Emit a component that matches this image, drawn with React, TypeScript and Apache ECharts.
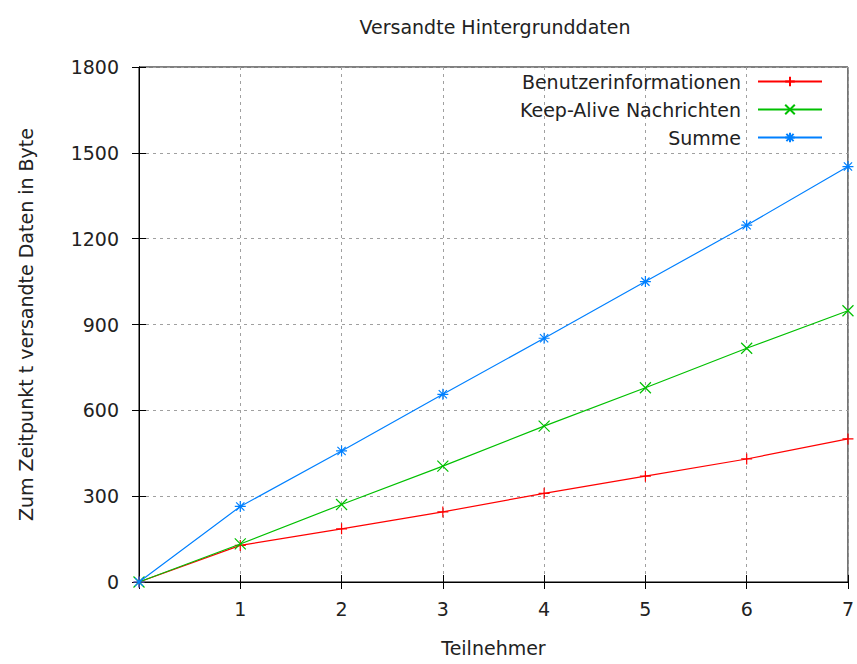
import React, { useEffect, useRef } from "react";
import * as echarts from "echarts";

const participants = [0, 1, 2, 3, 4, 5, 6, 7];
const userInfo = [0, 128, 186, 245, 310, 370, 430, 500];
const keepAlive = [0, 133, 271, 405, 545, 679, 817, 948];
const total = [0, 264, 458, 656, 852, 1050, 1247, 1452];
const seriesNames = ["Benutzerinformationen", "Keep-Alive Nachrichten", "Summe"];
const colors = ["#ff0000", "#00c000", "#0080ff"];

const FONT = "DejaVu Sans";
const FS = 19;
const TEXT = "#222";

const plusSym = "path://M-1,0 L1,0 M0,-1 L0,1";
const crossSym = "path://M-1,-1 L1,1 M-1,1 L1,-1";
const starSym = "path://M-1,0 L1,0 M0,-1 L0,1 M-0.75,-0.75 L0.75,0.75 M-0.75,0.75 L0.75,-0.75";

export default function App() {
  const ref = useRef<HTMLDivElement>(null);
  useEffect(() => {
    const chart = echarts.init(ref.current!, null, { renderer: "svg" });
    const mk = (i: number, vals: number[], sym: string) => ({
      name: seriesNames[i],
      type: "line",
      data: participants.map((x, k) => [x, vals[k]]),
      symbol: sym,
      symbolSize: 11,
      showSymbol: true,
      lineStyle: { color: colors[i], width: 1.2 },
      itemStyle: { color: colors[i], borderColor: colors[i], borderWidth: 1.2 },
      emphasis: { disabled: true },
      z: 3 + i,
    });
    const tickStyle = { show: true, inside: true, length: 7, lineStyle: { color: "#000", width: 1 } };
    chart.setOption({
      animation: false,
      backgroundColor: "#fff",
      title: {
        text: "Versandte Hintergrunddaten",
        left: 490,
        top: 12,
        textAlign: "center",
        textStyle: { fontFamily: FONT, fontSize: FS, fontWeight: "normal", color: TEXT },
      },
      legend: {
        orient: "vertical",
        align: "right",
        right: 34,
        top: 72,
        padding: 0,
        itemGap: 9,
        itemWidth: 64,
        itemHeight: 12,
        data: seriesNames,
        textStyle: { fontFamily: FONT, fontSize: FS, lineHeight: 18, color: TEXT, padding: [0, 12, 0, 0] },
      },
      grid: { left: 139, top: 67, width: 713, height: 515, show: true, borderColor: "#000", borderWidth: 1 },
      xAxis: [
        {
          type: "value",
          min: 0,
          max: 7,
          interval: 1,
          name: "Teilnehmer",
          nameLocation: "middle",
          nameGap: 56,
          nameTextStyle: { fontFamily: FONT, fontSize: FS, color: TEXT },
          axisLine: { show: true, lineStyle: { color: "#000", width: 1 } },
          axisTick: tickStyle,
          axisLabel: {
            fontFamily: FONT,
            fontSize: FS,
            color: TEXT,
            margin: 17,
            formatter: (v: number) => (v === 0 ? "" : String(v)),
          },
          splitLine: { show: true, lineStyle: { color: "#a0a0a0", type: [3, 4], width: 1 } },
        },
        {
          type: "value",
          position: "top",
          min: 0,
          max: 7,
          interval: 1,
          axisLine: { show: true, lineStyle: { color: "#000", width: 1 } },
          axisTick: tickStyle,
          axisLabel: { show: false },
          splitLine: { show: false },
        },
      ],
      yAxis: [
        {
          type: "value",
          min: 0,
          max: 1800,
          interval: 300,
          name: "Zum Zeitpunkt t versandte Daten in Byte",
          nameLocation: "middle",
          nameGap: 104,
          nameTextStyle: { fontFamily: FONT, fontSize: FS, color: TEXT },
          axisLine: { show: true, lineStyle: { color: "#000", width: 1 } },
          axisTick: tickStyle,
          axisLabel: { fontFamily: FONT, fontSize: FS, color: TEXT, margin: 20, formatter: (v: number) => String(v) },
          splitLine: { show: true, lineStyle: { color: "#a0a0a0", type: [3, 4], width: 1 } },
        },
        {
          type: "value",
          position: "right",
          min: 0,
          max: 1800,
          interval: 300,
          axisLine: { show: true, lineStyle: { color: "#000", width: 1 } },
          axisTick: tickStyle,
          axisLabel: { show: false },
          splitLine: { show: false },
        },
      ],
      series: [mk(0, userInfo, plusSym), mk(1, keepAlive, crossSym), mk(2, total, starSym)],
    });
    return () => chart.dispose();
  }, []);
  return (
    <div
      ref={ref}
      style={{ position: "fixed", left: 0, top: 0, width: 857, height: 664, background: "#fff" }}
    />
  );
}
